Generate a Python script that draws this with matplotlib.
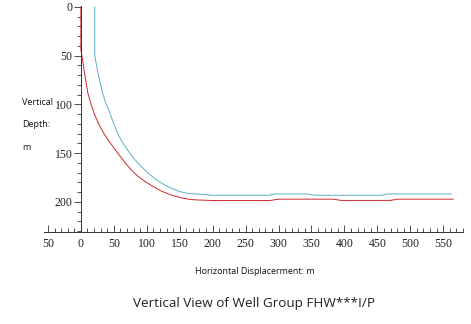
import matplotlib
matplotlib.use("Agg")
import matplotlib.pyplot as plt
from matplotlib.ticker import MultipleLocator, FuncFormatter

plt.rcParams["font.family"] = ["Liberation Serif", "DejaVu Serif"]

# well trajectories: horizontal displacement (m) vs vertical depth (m)
red_x = [0, 0, 1.5, 5.6, 10.6, 15, 20, 27, 35, 45, 56, 66, 76, 86, 97, 110,
         122, 135, 147, 160, 173, 200, 287, 300, 383, 395, 470, 480, 565]
red_d = [0, 44, 50, 68, 88.5, 99, 109, 120, 130, 140, 150, 159, 167, 173.5, 179, 184.5,
         189, 192.5, 195, 197, 198, 198.7, 198.7, 197.3, 197.3, 198.6, 198.6, 197.3, 197.3]

cyan_x = [21, 21, 26, 33, 38, 44, 50, 56, 63, 71, 81, 92, 102, 112, 124, 137,
          150, 163, 176, 200, 285, 295, 345, 355, 455, 465, 562]
cyan_d = [0, 50, 68, 88.5, 99, 109, 120, 130, 139, 147, 156, 164, 170.5, 176, 181.5, 186,
          189.5, 191.5, 192, 193.3, 193.3, 192, 192, 193.3, 193.3, 192, 192]

fig = plt.figure(figsize=(4.71, 3.24), dpi=100)
ax = fig.add_axes([0.0934, 0.284, 0.8896, 0.6975])

ax.plot(red_x, red_d, color="#c8282c", lw=0.7)
ax.plot(cyan_x, cyan_d, color="#5aaec4", lw=0.7)

ax.set_xlim(-56, 580)
ax.set_ylim(231, -1)

ax.spines["top"].set_visible(False)
ax.spines["right"].set_visible(False)
ax.spines["left"].set_position(("data", 0))
for s in ("left", "bottom"):
    ax.spines[s].set_linewidth(0.7)
    ax.spines[s].set_color("#333333")

ax.xaxis.set_major_locator(MultipleLocator(50))
ax.xaxis.set_minor_locator(MultipleLocator(10))
ax.xaxis.set_major_formatter(FuncFormatter(lambda v, p: f"{abs(v):.0f}"))
ax.set_yticks([0, 50, 100, 150, 200])
ax.yaxis.set_minor_locator(MultipleLocator(10))

ax.tick_params(axis="both", which="both", width=0.6, color="#333333",
               labelsize=8.5, labelcolor="#222222")
ax.tick_params(axis="x", which="both", direction="in", pad=4)
ax.tick_params(axis="y", which="both", direction="out", pad=1)
ax.tick_params(which="major", length=5)
ax.tick_params(which="minor", length=3)

lab_font = dict(family="Open Sans", fontsize=6.5, color="#111111")
fig.text(22 / 471, 1 - 102 / 324, "Vertical", va="center", ha="left", **lab_font)
fig.text(22 / 471, 1 - 125 / 324, "Depth:", va="center", ha="left", **lab_font)
fig.text(22 / 471, 1 - 147 / 324, "m", va="center", ha="left", **lab_font)
fig.text(255 / 471, 1 - 272 / 324, "Horizontal Displacerment: m", ha="center",
         va="center", **lab_font)

fig.text(254 / 471, 1 - 303 / 324, "Vertical View of Well Group FHW***I/P",
         ha="center", va="center", family="Open Sans", fontsize=9.7, color="#222222")

fig.savefig("out.png", dpi=100)
